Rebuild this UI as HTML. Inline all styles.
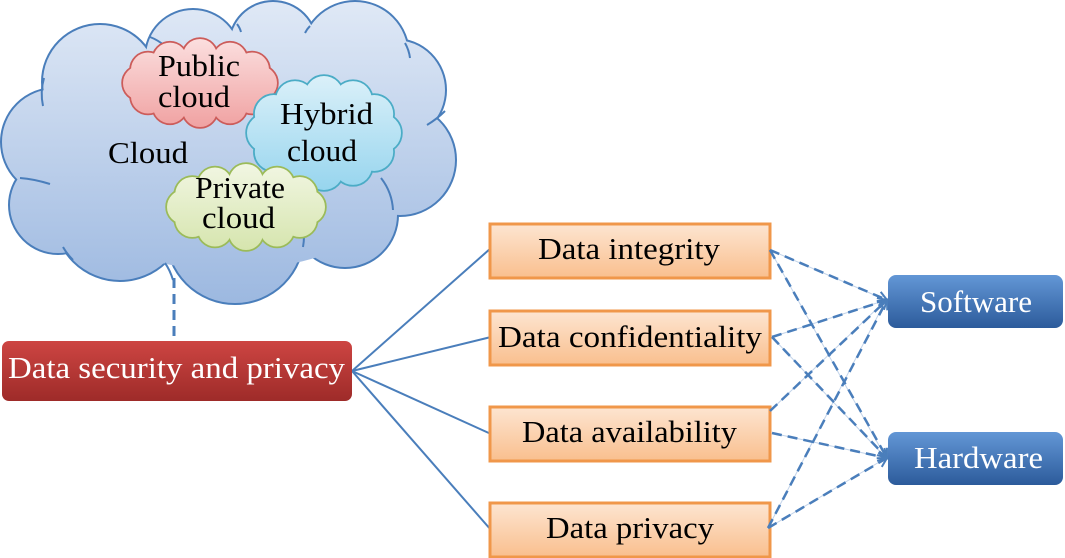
<!DOCTYPE html>
<html><head><meta charset="utf-8"><style>
html,body{margin:0;padding:0;background:#fff;}
svg{display:block;}
text{font-family:"Liberation Serif",serif;}
</style></head><body>
<svg width="1065" height="558" viewBox="0 0 1065 558" xmlns="http://www.w3.org/2000/svg">
<defs>
 <linearGradient id="gBig" gradientUnits="userSpaceOnUse" x1="0" y1="0" x2="0" y2="305">
  <stop offset="0" stop-color="#e0e9f6"/><stop offset="1" stop-color="#9cb8e0"/>
 </linearGradient>
 <linearGradient id="gPub" gradientUnits="userSpaceOnUse" x1="0" y1="40" x2="0" y2="127">
  <stop offset="0" stop-color="#fbdede"/><stop offset="1" stop-color="#f0a2a2"/>
 </linearGradient>
 <linearGradient id="gHyb" gradientUnits="userSpaceOnUse" x1="0" y1="77" x2="0" y2="190">
  <stop offset="0" stop-color="#daf0f9"/><stop offset="1" stop-color="#97d5ee"/>
 </linearGradient>
 <linearGradient id="gPri" gradientUnits="userSpaceOnUse" x1="0" y1="165" x2="0" y2="250">
  <stop offset="0" stop-color="#f1f6e2"/><stop offset="1" stop-color="#d6e5ae"/>
 </linearGradient>
 <linearGradient id="gOr" x1="0" y1="0" x2="0" y2="1">
  <stop offset="0" stop-color="#fde5d1"/><stop offset="1" stop-color="#f9bf8e"/>
 </linearGradient>
 <linearGradient id="gRed" x1="0" y1="0" x2="0" y2="1">
  <stop offset="0" stop-color="#cd4542"/><stop offset="1" stop-color="#9e2b29"/>
 </linearGradient>
 <linearGradient id="gBlue" x1="0" y1="0" x2="0" y2="1">
  <stop offset="0" stop-color="#6397d6"/><stop offset="1" stop-color="#2c5b9b"/>
 </linearGradient>
 <marker id="ah" markerWidth="14" markerHeight="14" refX="11" refY="7" orient="auto" markerUnits="userSpaceOnUse">
  <path d="M2,2 L11,7 L2,12" fill="none" stroke="#4a7ebb" stroke-width="2"/>
 </marker>
</defs>

<!-- Big cloud outline (stroke union) -->
<g stroke="#4a7ebb" stroke-width="4" fill="#4a7ebb">
 <circle cx="100" cy="82" r="57"/><circle cx="193" cy="57" r="47"/><circle cx="273" cy="45" r="43"/>
 <circle cx="355" cy="55" r="53"/><circle cx="395" cy="90" r="50"/><circle cx="400" cy="160" r="55"/>
 <circle cx="345" cy="215" r="52"/><circle cx="235" cy="235" r="68"/><circle cx="120" cy="215" r="65"/>
 <circle cx="58" cy="205" r="48"/><circle cx="55" cy="142" r="53"/>
</g>
<g fill="url(#gBig)">
 <circle cx="100" cy="82" r="57"/><circle cx="193" cy="57" r="47"/><circle cx="273" cy="45" r="43"/>
 <circle cx="355" cy="55" r="53"/><circle cx="395" cy="90" r="50"/><circle cx="400" cy="160" r="55"/>
 <circle cx="345" cy="215" r="52"/><circle cx="235" cy="235" r="68"/><circle cx="120" cy="215" r="65"/>
 <circle cx="58" cy="205" r="48"/><circle cx="55" cy="142" r="53"/>
 <ellipse cx="228" cy="155" rx="195" ry="115"/>
</g>
<g fill="none" stroke="#4a7ebb" stroke-width="2">
 <path d="M43,106 Q40,92 44,78"/>
 <path d="M150,37 Q158,40 165,46"/>
 <path d="M237,24 Q240,28 241,32"/>
 <path d="M310,26 Q307,29 305,33"/>
 <path d="M405,43 Q409,50 410,58"/>
 <path d="M427,125 Q437,119 445,111"/>
 <path d="M393,210 Q392,192 381,178"/>
 <path d="M303,247 Q305,236 303,224"/>
 <path d="M173,280 Q170,270 165,263"/>
 <path d="M73,260 Q67,254 63,247"/>
 <path d="M50,184 Q34,179 20,178"/>
</g>

<!-- Public cloud -->
<g stroke="#cc5c5a" stroke-width="3.5" fill="#cc5c5a">
 <circle cx="260" cy="83" r="17"/><circle cx="252" cy="96.5" r="17"/><circle cx="230" cy="106.4" r="17"/>
 <circle cx="200" cy="110" r="17"/><circle cx="170" cy="106.4" r="17"/><circle cx="148" cy="96.5" r="17"/>
 <circle cx="140" cy="83" r="17"/><circle cx="148" cy="69.5" r="17"/><circle cx="170" cy="59.6" r="17"/>
 <circle cx="200" cy="56" r="17"/><circle cx="230" cy="59.6" r="17"/><circle cx="252" cy="69.5" r="17"/>
</g>
<g fill="url(#gPub)">
 <circle cx="260" cy="83" r="17"/><circle cx="252" cy="96.5" r="17"/><circle cx="230" cy="106.4" r="17"/>
 <circle cx="200" cy="110" r="17"/><circle cx="170" cy="106.4" r="17"/><circle cx="148" cy="96.5" r="17"/>
 <circle cx="140" cy="83" r="17"/><circle cx="148" cy="69.5" r="17"/><circle cx="170" cy="59.6" r="17"/>
 <circle cx="200" cy="56" r="17"/><circle cx="230" cy="59.6" r="17"/><circle cx="252" cy="69.5" r="17"/>
 <ellipse cx="200" cy="83" rx="62" ry="30"/>
</g>

<!-- Hybrid cloud -->
<g stroke="#4bacc6" stroke-width="3.5" fill="#4bacc6">
 <circle cx="382" cy="133" r="19"/><circle cx="374.2" cy="152" r="19"/><circle cx="353" cy="165.9" r="19"/>
 <circle cx="324" cy="171" r="19"/><circle cx="295" cy="165.9" r="19"/><circle cx="273.8" cy="152" r="19"/>
 <circle cx="266" cy="133" r="19"/><circle cx="273.8" cy="114" r="19"/><circle cx="295" cy="100.1" r="19"/>
 <circle cx="324" cy="95" r="19"/><circle cx="353" cy="100.1" r="19"/><circle cx="374.2" cy="114" r="19"/>
</g>
<g fill="url(#gHyb)">
 <circle cx="382" cy="133" r="19"/><circle cx="374.2" cy="152" r="19"/><circle cx="353" cy="165.9" r="19"/>
 <circle cx="324" cy="171" r="19"/><circle cx="295" cy="165.9" r="19"/><circle cx="273.8" cy="152" r="19"/>
 <circle cx="266" cy="133" r="19"/><circle cx="273.8" cy="114" r="19"/><circle cx="295" cy="100.1" r="19"/>
 <circle cx="324" cy="95" r="19"/><circle cx="353" cy="100.1" r="19"/><circle cx="374.2" cy="114" r="19"/>
 <ellipse cx="324" cy="133" rx="60" ry="40"/>
</g>

<!-- Private cloud -->
<g stroke="#9bbb59" stroke-width="3.5" fill="#9bbb59">
 <circle cx="308" cy="207" r="17"/><circle cx="299.7" cy="220" r="17"/><circle cx="277" cy="229.5" r="17"/>
 <circle cx="246" cy="233" r="17"/><circle cx="215" cy="229.5" r="17"/><circle cx="192.3" cy="220" r="17"/>
 <circle cx="184" cy="207" r="17"/><circle cx="192.3" cy="194" r="17"/><circle cx="215" cy="184.5" r="17"/>
 <circle cx="246" cy="181" r="17"/><circle cx="277" cy="184.5" r="17"/><circle cx="299.7" cy="194" r="17"/>
</g>
<g fill="url(#gPri)">
 <circle cx="308" cy="207" r="17"/><circle cx="299.7" cy="220" r="17"/><circle cx="277" cy="229.5" r="17"/>
 <circle cx="246" cy="233" r="17"/><circle cx="215" cy="229.5" r="17"/><circle cx="192.3" cy="220" r="17"/>
 <circle cx="184" cy="207" r="17"/><circle cx="192.3" cy="194" r="17"/><circle cx="215" cy="184.5" r="17"/>
 <circle cx="246" cy="181" r="17"/><circle cx="277" cy="184.5" r="17"/><circle cx="299.7" cy="194" r="17"/>
 <ellipse cx="246" cy="207" rx="64" ry="28"/>
</g>

<!-- Cloud texts -->
<g font-size="31" fill="#000">
 <text x="108" y="163" textLength="80" lengthAdjust="spacingAndGlyphs">Cloud</text>
 <text x="158" y="76" textLength="82" lengthAdjust="spacingAndGlyphs">Public</text>
 <text x="158" y="107" textLength="72" lengthAdjust="spacingAndGlyphs">cloud</text>
 <text x="280" y="124" textLength="93" lengthAdjust="spacingAndGlyphs">Hybrid</text>
 <text x="287" y="161" textLength="70" lengthAdjust="spacingAndGlyphs">cloud</text>
 <text x="195" y="198" textLength="90" lengthAdjust="spacingAndGlyphs">Private</text>
 <text x="202" y="228" textLength="73" lengthAdjust="spacingAndGlyphs">cloud</text>
</g>

<!-- vertical dashed connector -->
<line x1="174" y1="278" x2="174" y2="341" stroke="#4a7ebb" stroke-width="3" stroke-dasharray="10,6"/>

<!-- solid connectors -->
<g stroke="#4a7ebb" stroke-width="2" fill="none">
 <line x1="352" y1="371" x2="491" y2="248"/>
 <line x1="352" y1="371" x2="491" y2="337"/>
 <line x1="352" y1="371" x2="491" y2="434"/>
 <line x1="352" y1="371" x2="491" y2="530"/>
</g>

<!-- red box -->
<rect x="2" y="341" width="350" height="60" rx="7" fill="url(#gRed)"/>
<text x="8" y="378" font-size="31" fill="#fff" textLength="337" lengthAdjust="spacingAndGlyphs">Data security and privacy</text>

<!-- orange boxes -->
<g stroke="#f0974a" stroke-width="3" fill="url(#gOr)">
 <rect x="490" y="224" width="280" height="54"/>
 <rect x="490" y="311" width="280" height="54"/>
 <rect x="490" y="407" width="280" height="54"/>
 <rect x="490" y="503" width="280" height="54"/>
</g>
<g font-size="31" fill="#000">
 <text x="538" y="259" textLength="182" lengthAdjust="spacingAndGlyphs">Data integrity</text>
 <text x="498" y="347" textLength="264" lengthAdjust="spacingAndGlyphs">Data confidentiality</text>
 <text x="522" y="442" textLength="215" lengthAdjust="spacingAndGlyphs">Data availability</text>
 <text x="546" y="538" textLength="168" lengthAdjust="spacingAndGlyphs">Data privacy</text>
</g>

<!-- faint thin underlying lines -->
<g stroke="#c3d4ea" stroke-width="1" fill="none">
 <line x1="770" y1="250" x2="886" y2="300"/>
 <line x1="770" y1="250" x2="886" y2="458"/>
 <line x1="772" y1="337" x2="886" y2="300"/>
 <line x1="772" y1="337" x2="886" y2="458"/>
 <line x1="770" y1="411" x2="886" y2="300"/>
 <line x1="772" y1="433" x2="886" y2="458"/>
 <line x1="768" y1="528" x2="886" y2="300"/>
 <line x1="768" y1="528" x2="886" y2="458"/>
</g>
<!-- dashed connectors -->
<g stroke="#4a7ebb" stroke-width="2.5" fill="none" stroke-dasharray="10,6" marker-end="url(#ah)">
 <line x1="770" y1="250" x2="887" y2="300"/>
 <line x1="770" y1="250" x2="887" y2="458"/>
 <line x1="772" y1="337" x2="887" y2="300"/>
 <line x1="772" y1="337" x2="887" y2="458"/>
 <line x1="770" y1="411" x2="887" y2="300"/>
 <line x1="772" y1="433" x2="887" y2="458"/>
 <line x1="768" y1="528" x2="887" y2="300"/>
 <line x1="768" y1="528" x2="887" y2="458"/>
</g>

<!-- blue boxes -->
<rect x="888" y="275" width="175" height="53" rx="8" fill="url(#gBlue)"/>
<rect x="888" y="432" width="175" height="53" rx="8" fill="url(#gBlue)"/>
<g font-size="31" fill="#fff">
 <text x="920" y="312" textLength="112" lengthAdjust="spacingAndGlyphs">Software</text>
 <text x="914" y="468" textLength="129" lengthAdjust="spacingAndGlyphs">Hardware</text>
</g>
</svg>
</body></html>
